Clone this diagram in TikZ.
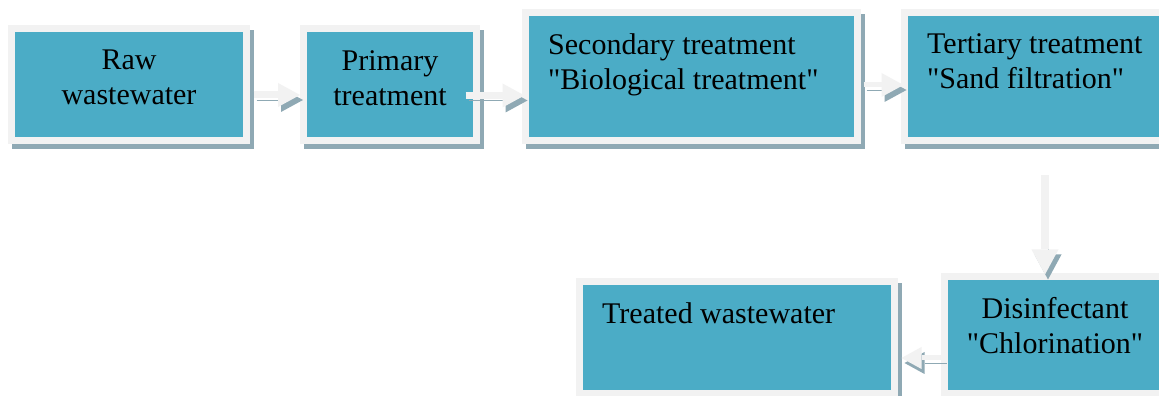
\documentclass[tikz,border=0pt]{standalone}
\usepackage{fontspec}
\setmainfont{Liberation Serif}[Ligatures=TeXOff]
\usetikzlibrary{arrows.meta,shadows}

\definecolor{stagefill}{HTML}{4BACC6}
\definecolor{stagerim}{HTML}{F2F2F2}
\definecolor{stageshade}{HTML}{8FA9B4}

\begin{document}
\begin{tikzpicture}[
  x=1pt, y=1pt,
  font=\fontsize{30}{35}\selectfont,
  stage/.style={draw=stagerim, fill=stagefill, line width=7pt, inner sep=0pt,
    general shadow={draw=stageshade, fill=stageshade, line width=7pt, shadow xshift=4pt, shadow yshift=-5pt}},
  caption/.style={inner sep=0pt, anchor=north},
  link/.style={draw=stagerim, line width=7pt, -{Triangle[width=24pt, length=22pt, line width=0pt]},
    preaction={draw=stageshade, transform canvas={shift={(3pt,-5pt)}}}}
]
\useasboundingbox[fill=white] (0,0) rectangle (1159,396);

% process stages
\node[stage, minimum width=235pt, minimum height=112pt] (raw) at (129,311) {};
\node[stage, minimum width=173pt, minimum height=112pt] (primary) at (390,311) {};
\node[stage, minimum width=332pt, minimum height=128pt] (secondary) at (691.5,319.5) {};
\node[stage, minimum width=281pt, minimum height=128pt] (tertiary) at (1045,319.5) {};
\node[stage, minimum width=221pt, minimum height=117pt] (disinfect) at (1055,61) {};
\node[stage, minimum width=315pt, minimum height=112pt] (treated) at (737,58.5) {};

% texts
\node[caption, align=center] (raw-txt) at ([yshift=-24.5pt]raw.north) {Raw\\wastewater};
\node[caption, align=center] (primary-txt) at ([yshift=-24.5pt]primary.north) {Primary\\treatment};
\node[caption, anchor=north west, align=left] (secondary-txt) at ([xshift=26pt, yshift=-24.5pt]secondary.north west) {Secondary treatment\\"Biological treatment"};
\node[caption, anchor=north west, align=left] (tertiary-txt) at ([xshift=26pt, yshift=-24.5pt]tertiary.north west) {Tertiary treatment\\"Sand filtration"};
\node[caption, align=center] (disinfect-txt) at ([yshift=-24.5pt]disinfect.north) {Disinfectant\\"Chlorination"};
\node[caption, anchor=north west] (treated-txt) at ([xshift=26pt, yshift=-24.5pt]treated.north west) {Treated wastewater};

% connectors
\coordinate (raw-out) at ([yshift=-10pt]raw.east);
\coordinate (primary-out) at ([yshift=-10.5pt]primary.east);
\coordinate (secondary-out) at ([yshift=-8.5pt]secondary.east);
\coordinate (disinfect-out) at ([yshift=-23pt]disinfect.west);
\draw[link, shorten <=3.5pt] (raw-out) -- (raw-out -| primary.west);
\draw[link, shorten <=-14.5pt, shorten >=-2.5pt] (primary-out) -- (primary-out -| secondary.west);
\draw[link, line width=5pt, shorten <=2.5pt, shorten >=-2.5pt] (secondary-out) -- (secondary-out -| tertiary.west);
\draw[link, line width=8pt, -{Triangle[width=27pt, length=25pt, line width=0pt]}, shorten <=31.5pt, shorten >=-1.5pt] (tertiary.south) -- (tertiary.south |- disinfect.north);
\draw[link, line width=5pt, -{Triangle[width=22pt, length=20pt, line width=0pt]}, shorten <=-2.5pt, shorten >=3.5pt] (disinfect-out) -- (disinfect-out -| treated.east);
\end{tikzpicture}
\end{document}
